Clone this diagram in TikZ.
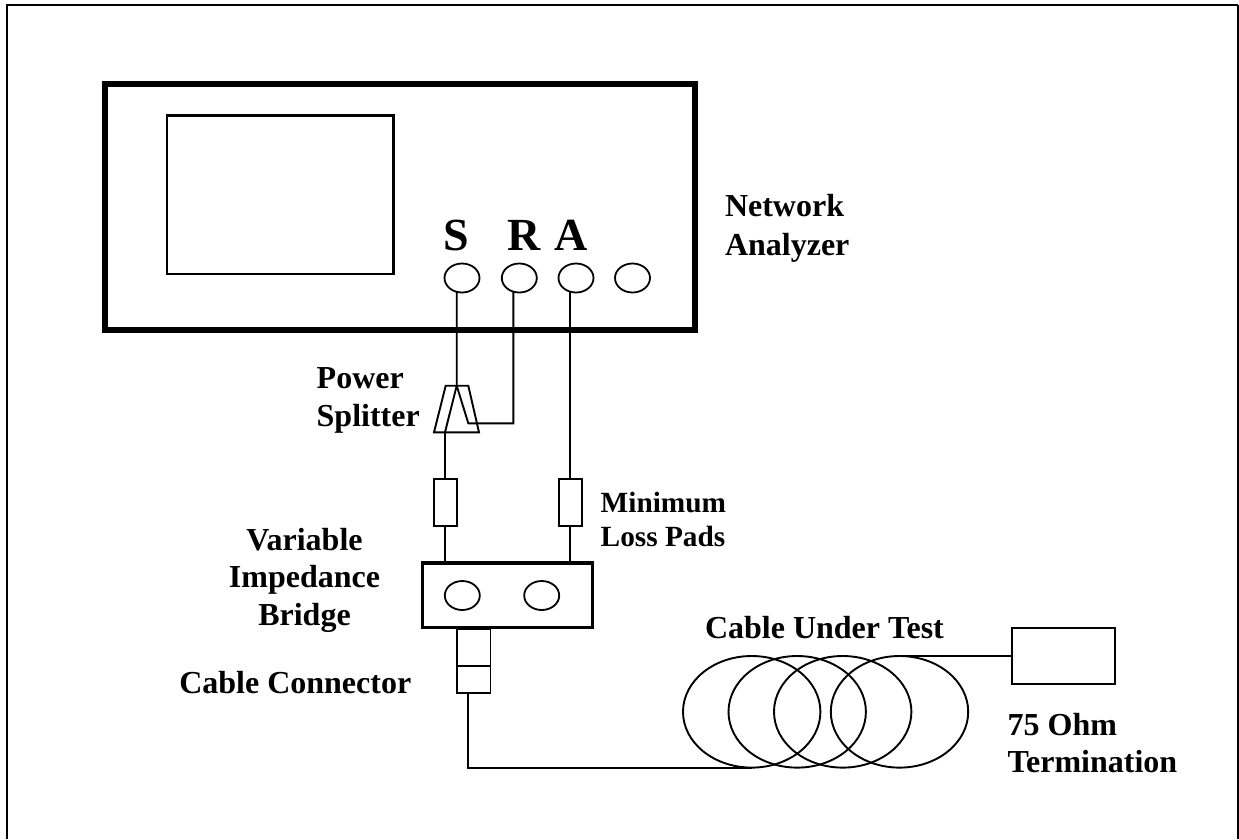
\documentclass[tikz,border=0pt]{standalone}
\usepackage{fontspec}
\setmainfont{Liberation Serif}
\usetikzlibrary{shapes.geometric}
\tikzset{
  every node/.style={inner sep=0pt,outer sep=0pt},
  wire/.style={line width=1.9pt,black},
  thinbox/.style={draw,rectangle,line width=1.9pt},
  thickbox/.style={draw,rectangle,line width=6pt},
  midbox/.style={draw,rectangle,line width=3.6pt},
  screenbox/.style={draw,rectangle,line width=2.4pt},
  port/.style={draw,ellipse,line width=1.8pt,minimum width=35pt,minimum height=29pt},
  coil/.style={draw,ellipse,line width=1.9pt,minimum width=137.4pt,minimum height=111.6pt},
  lab/.style={font=\fontsize{32}{38}\selectfont\bfseries,anchor=base west},
  labc/.style={font=\fontsize{32}{38}\selectfont\bfseries,anchor=base},
  labs/.style={font=\fontsize{29.3}{34}\selectfont\bfseries,anchor=base west},
  portlab/.style={font=\fontsize{46}{50}\selectfont\bfseries,anchor=base west},
}
\begin{document}
\begin{tikzpicture}[x=1pt,y=-1pt]
\useasboundingbox (0,0) rectangle (1239,839);
% outer frame
\coordinate (fBL) at (6.5,839);
\coordinate (fTL) at (6.5,5);
\coordinate (fTR) at (1238,5);
\coordinate (fBR) at (1238,839);
\draw[line width=2pt] (fBL) -- (fTL) -- (fTR);
\draw[line width=2pt] (fTR) -- (fBR);
% analyzer
\node[thickbox,minimum width=590pt,minimum height=246pt] (analyzer) at (400,206.7) {};
\node[screenbox,minimum width=226.7pt,minimum height=158.5pt] (screen) at (280.3,194.7) {};
\node[port] (portS) at (462,278) {};
\node[port] (portR) at (519.3,278) {};
\node[port] (portA) at (576,278) {};
\node[port] (portX) at (632.5,278) {};
\node[portlab] (labS) at (443,250) {S};
\node[portlab] (labR) at (507,250) {R};
\node[portlab] (labA) at (554,250) {A};
% splitter
\coordinate (sTopL) at (445.7,385.7);
\coordinate (sTopM) at (456.7,385.7);
\coordinate (sTopR) at (468.3,385.7);
\coordinate (sBotL) at (434,432.3);
\coordinate (sBotM) at (445,432.3);
\coordinate (sBotR) at (479,432.3);
\coordinate (sIn) at (468.3,423.3);
\coordinate (sOut) at (513.3,423.3);
\coordinate (pS) at (456.7,291.8);
\coordinate (pR) at (513.3,291.8);
\coordinate (pA) at (570,291.8);
\draw[wire] (sTopL) -- (sTopR) -- (sBotR) -- (sBotL) -- cycle;
\draw[wire] (pS) -- (sTopM) -- (sBotM);
\draw[wire,line join=miter] (sTopM) -- (sIn) -- (sOut) -- (pR);
% pads
\node[thinbox,minimum width=23pt,minimum height=46.4pt] (padL) at (445.5,502.5) {};
\node[thinbox,minimum width=23pt,minimum height=46.4pt] (padR) at (570.3,502.5) {};
\draw[wire] (sBotM) -- (sBotM |- padL.north);
\draw[wire] (pA) -- (pA |- padR.north);
% bridge
\node[midbox,minimum width=170pt,minimum height=64.5pt] (bridge) at (507.5,595.3) {};
\node[port] (brA) at (462.3,595.5) {};
\node[port] (brB) at (541.7,595.5) {};
\draw[wire] (sBotM |- padL.south) -- (sBotM |- bridge.north);
\draw[wire] (pA |- padR.south) -- (pA |- bridge.north);
% cable connector
\node[thinbox,minimum width=33.5pt,minimum height=36.7pt] (conA) at (473.7,647.3) {};
\node[thinbox,minimum width=33.5pt,minimum height=27.6pt] (conB) at (473.7,679.5) {};
% coil
\node[coil] (c1) at (751.7,711.8) {};
\node[coil] (c2) at (797.2,711.8) {};
\node[coil] (c3) at (842.7,711.8) {};
\node[coil] (c4) at (899.5,711.8) {};
\node[thinbox,minimum width=102.7pt,minimum height=56pt] (term) at (1063.7,655.7) {};
\coordinate (conOut) at (468,693.3);
\draw[wire] (conOut) |- (c1.south);
\draw[wire] (c4.north) -- (c4.north -| term.west);
% labels
\node[lab] (t1) at (725,216.7) {Network};
\node[lab] (t2) at (725,255) {Analyzer};
\node[lab] (t3) at (316.7,388) {Power};
\node[lab] (t4) at (316.7,426.7) {Splitter};
\node[labs] (t5) at (600.7,512.3) {Minimum};
\node[labs] (t6) at (600.7,546.7) {Loss Pads};
\node[labc] (t7) at (304.5,550) {Variable};
\node[labc] (t8) at (304.5,587.7) {Impedance};
\node[labc] (t9) at (304.5,625.3) {Bridge};
\node[lab] (t10) at (179.3,693.3) {Cable Connector};
\node[lab] (t11) at (705,638.3) {Cable Under Test};
\node[lab] (t12) at (1007.7,735) {75 Ohm};
\node[lab] (t13) at (1007.7,772.7) {Termination};
\end{tikzpicture}
\end{document}
